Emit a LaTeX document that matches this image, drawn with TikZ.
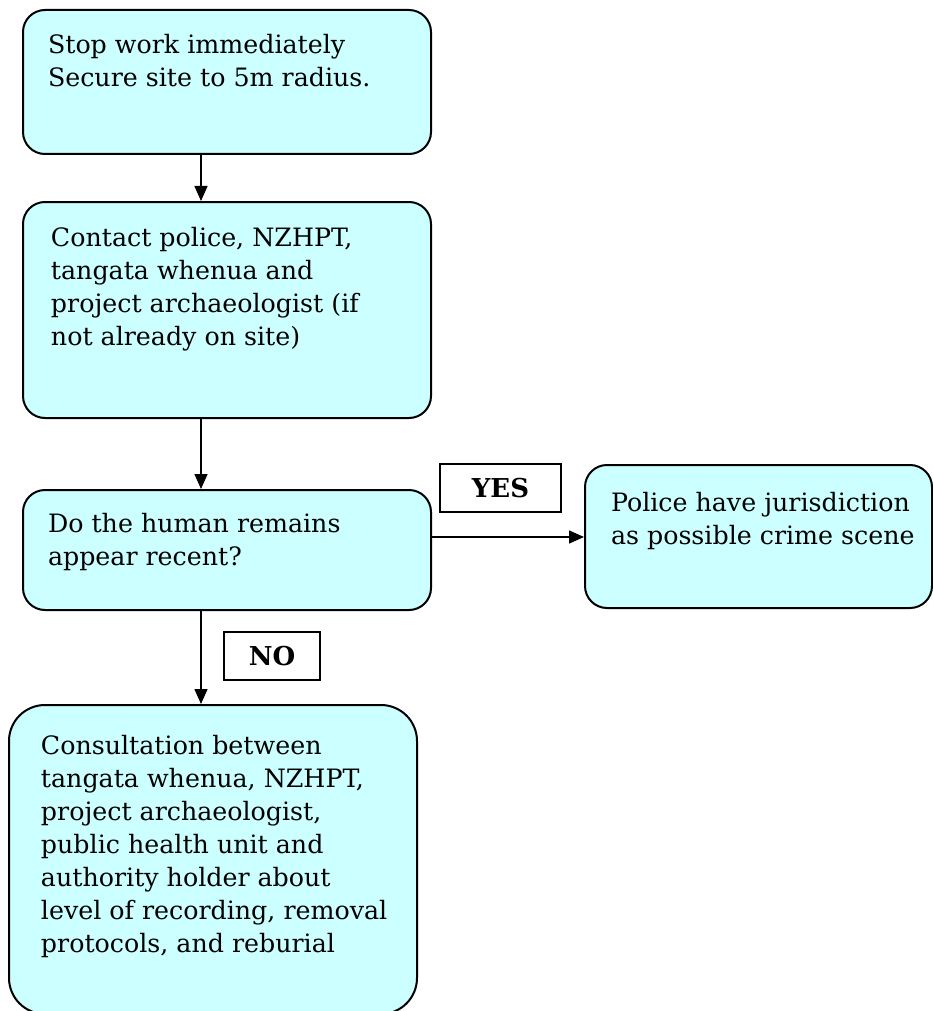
\documentclass[tikz,border=0pt]{standalone}
\usepackage{fontspec}
\setmainfont{DejaVu Serif}
\usetikzlibrary{arrows.meta}

\definecolor{boxcyan}{RGB}{204,255,255}
% height, width, left inset, first baseline, text
\newcommand{\boxtext}[5]{%
  \parbox[t][#1][t]{#2}{\raggedright\leftskip=#3\relax\rule{0pt}{#4}#5}}

\begin{document}
\begin{tikzpicture}[x=1pt, y=-1pt,
  every node/.style={font=\fontsize{25.3}{33}\selectfont},
  stepbox/.style={draw, line width=2pt, fill=boxcyan, rounded corners=22pt,
    inner sep=0pt, anchor=north west},
  answer/.style={draw, line width=1.5pt, inner sep=0pt,
    font=\fontsize{26}{33}\selectfont\bfseries},
  arr/.style={line width=1.5pt, -{Triangle[length=15pt,width=13pt]}}]
  \useasboundingbox (0,0) rectangle (932,1011);

  \node[stepbox] (stop) at (22,9)
    {\boxtext{144pt}{408pt}{25pt}{44pt}{Stop work immediately\\
      Secure site to 5m radius.}};
  \node[stepbox] (contact) at (22,201)
    {\boxtext{216pt}{408pt}{28pt}{44pt}{Contact police, NZHPT,\\
      tangata whenua and\\ project archaeologist (if\\ not already on site)}};
  \node[stepbox] (recent) at (22,489)
    {\boxtext{120pt}{408pt}{25pt}{42pt}{Do the human remains\\ appear recent?}};
  \node[stepbox] (police) at (584,464)
    {\boxtext{143pt}{347pt}{26pt}{46pt}{Police have jurisdiction\\
      as possible crime scene}};
  \node[stepbox, rounded corners=36pt] (consult) at (8,704)
    {\boxtext{309pt}{408pt}{32pt}{49pt}{Consultation between\\
      tangata whenua, NZHPT,\\ project archaeologist,\\
      public health unit and\\ authority holder about\\
      level of recording, removal\\ protocols, and reburial}};

  \node[answer, minimum width=121pt, minimum height=48pt] (yes) at (500.5,488) {YES};
  \node[answer, minimum width=96pt, minimum height=48pt] (no) at (272,656) {NO};

  \coordinate (spine) at (201,0);
  \coordinate (yesrow) at (0,537);
  \draw[arr] (stop.south -| spine) -- (contact.north -| spine);
  \draw[arr] (contact.south -| spine) -- (recent.north -| spine);
  \draw[arr] (recent.east |- yesrow) -- (police.west |- yesrow);
  \draw[arr] (recent.south -| spine) -- (consult.north -| spine);
\end{tikzpicture}
\end{document}
